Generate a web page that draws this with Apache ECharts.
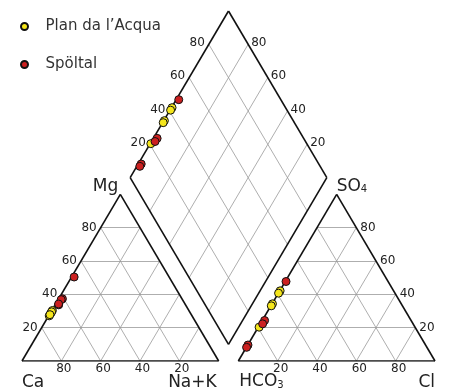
<!DOCTYPE html>
<html><head><meta charset="utf-8">
<script src="https://cdn.jsdelivr.net/npm/echarts@6/dist/echarts.min.js"></script>
<style>html,body{margin:0;padding:0;background:#fff}#c{width:451px;height:392px}</style>
</head><body><div id="c"></div>
<script>
// ---- data (% meq/l) ----
const seriesNames = ['Plan da l\u2019Acqua', 'Spöltal'];
// Plan da l'Acqua
const planMg  = [30.3, 28.7, 27.1, 29.5, 27.8];
const planNaK = [0.3, 0.3, 0.3, 0.3, 0.3];
const planSO4 = [42.1, 40.7, 34.3, 33.1, 20.3];
const planCl  = [0.2, 0.1, 0.2, 0.2, 0.4];
// Spöltal
const spoMg  = [50.4, 37.3, 33.7, 36.8, 34.2];
const spoNaK = [1.3, 1.9, 1.8, 1.5, 1.5];
const spoSO4 = [47.7, 24.3, 22.3, 9.6, 8.2];
const spoCl  = [0.4, 1.2, 1.2, 0.1, 0.1];
const tickValues = [20, 40, 60, 80];
const cornerNames = {mg: 'Mg', ca: 'Ca', nak: 'Na+K', hco3: '{m|HCO}{s|3}', cl: 'Cl', so4: '{m|SO}{s|4}'};

// ---- Piper geometry (triangle side = 100) ----
const S3 = Math.sqrt(3) / 2;
const GAP = 10;
const YMAX = GAP * S3 + 200 * S3;
function catXY(mg, nak) { return [nak + mg / 2, mg * S3]; }
function anXY(so4, cl) { return [100 + GAP + cl + so4 / 2, so4 * S3]; }
function diaXY(nak, s) {
  const lx = 50 + GAP / 2, ly = (100 + GAP) * S3;
  return [lx + s / 2 + nak / 2, ly + s * S3 - nak * S3];
}

const frame = [], grid = [];
function seg(arr, a, b) { arr.push({coords: [a, b]}); }
// outlines
seg(frame, catXY(0,0), catXY(0,100)); seg(frame, catXY(0,100), catXY(100,0)); seg(frame, catXY(100,0), catXY(0,0));
seg(frame, anXY(0,0), anXY(0,100)); seg(frame, anXY(0,100), anXY(100,0)); seg(frame, anXY(100,0), anXY(0,0));
seg(frame, diaXY(0,0), diaXY(0,100)); seg(frame, diaXY(0,100), diaXY(100,100)); seg(frame, diaXY(100,100), diaXY(100,0)); seg(frame, diaXY(100,0), diaXY(0,0));
tickValues.forEach(v => {
  seg(grid, catXY(v,0), catXY(v,100-v));
  seg(grid, catXY(0,v), catXY(100-v,v));
  seg(grid, catXY(0,100-v), catXY(100-v,0));
  seg(grid, anXY(v,0), anXY(v,100-v));
  seg(grid, anXY(0,v), anXY(100-v,v));
  seg(grid, anXY(0,100-v), anXY(100-v,0));
  seg(grid, diaXY(v,0), diaXY(v,100));
  seg(grid, diaXY(0,v), diaXY(100,v));
});

// ---- labels ----
const labels = [];
function lab(p, text, align, va, dx, dy, size) { labels.push({x: p[0], y: p[1], text, align, va, dx, dy, size}); }
tickValues.forEach(v => {
  lab(catXY(v,0), String(v), 'right', 'middle', -4, 0, 12);
  lab(catXY(0,100-v), String(v), 'center', 'top', 2.5, 2, 12);
  lab(anXY(0,v), String(v), 'center', 'top', 3, 2, 12);
  lab(anXY(v,100-v), String(v), 'left', 'middle', 4, 0, 12);
  lab(diaXY(0,v), String(v), 'right', 'middle', -4, -1.5, 12);
  lab(diaXY(100-v,100), String(v), 'left', 'middle', 3, -1.5, 12);
});
lab(catXY(100,0), cornerNames.mg, 'right', 'middle', -2, -8, 17);
lab(anXY(100,0), cornerNames.so4, 'left', 'middle', 0, -8, 17);
lab(catXY(0,0), cornerNames.ca, 'left', 'middle', 0, 22, 17);
lab(catXY(0,100), cornerNames.nak, 'right', 'middle', -2, 22, 17);
lab(anXY(0,0), cornerNames.hco3, 'left', 'middle', 1, 21, 17);
lab(anXY(0,100), cornerNames.cl, 'right', 'middle', 0, 22, 17);

function pointsFor(mg, nak, so4, cl) {
  const out = [];
  mg.forEach((m, i) => {
    out.push(catXY(m, nak[i]));
    out.push(anXY(so4[i], cl[i]));
    out.push(diaXY(nak[i], so4[i] + cl[i]));
  });
  return out;
}
const FONT = '"DejaVu Sans", sans-serif';
const TXT = '#222';
const chart = echarts.init(document.getElementById('c'), null, {renderer: 'canvas'});
chart.setOption({
  animation: false,
  backgroundColor: '#fff',
  grid: {left: 22, top: 11, width: 413, height: 350},
  xAxis: {type: 'value', min: 0, max: 210, show: false},
  yAxis: {type: 'value', min: 0, max: YMAX, show: false},
  legend: {
    orient: 'vertical', left: 15, top: 14, itemWidth: 32, itemHeight: 7, itemGap: 23,
    icon: 'circle', data: seriesNames,
    textStyle: {fontFamily: FONT, fontSize: 15, color: '#333'}
  },
  series: [
    {type: 'lines', coordinateSystem: 'cartesian2d', silent: true, data: grid,
     lineStyle: {color: '#999', width: 0.8, opacity: 1}, z: 1},
    {type: 'lines', coordinateSystem: 'cartesian2d', silent: true, data: frame,
     lineStyle: {color: '#111', width: 1.6, opacity: 1}, z: 2},
    {type: 'custom', coordinateSystem: 'cartesian2d', silent: true, z: 3,
     data: labels.map(l => [l.x, l.y]),
     renderItem: function (params, api) {
       const l = labels[params.dataIndex];
       const p = api.coord([l.x, l.y]);
       return {type: 'text', x: p[0] + l.dx, y: p[1] + l.dy,
         style: {text: l.text, align: l.align, verticalAlign: l.va, textAlign: l.align, textVerticalAlign: l.va,
           fontSize: l.size, fontFamily: FONT, fill: TXT,
           rich: {
             m: {fontSize: 17, fontFamily: FONT, fill: TXT},
             s: {fontSize: 10, fontFamily: FONT, fill: TXT, verticalAlign: 'bottom'}
           }}};
     }},
    {type: 'scatter', name: seriesNames[0], data: pointsFor(planMg, planNaK, planSO4, planCl),
     symbol: 'circle', symbolSize: 8, z: 5,
     itemStyle: {color: '#f5e61b', borderColor: '#111', borderWidth: 1, opacity: 1}},
    {type: 'scatter', name: seriesNames[1], data: pointsFor(spoMg, spoNaK, spoSO4, spoCl),
     symbol: 'circle', symbolSize: 8, z: 5,
     itemStyle: {color: '#cc2020', borderColor: '#111', borderWidth: 1, opacity: 1}}
  ]
});
</script></body></html>
